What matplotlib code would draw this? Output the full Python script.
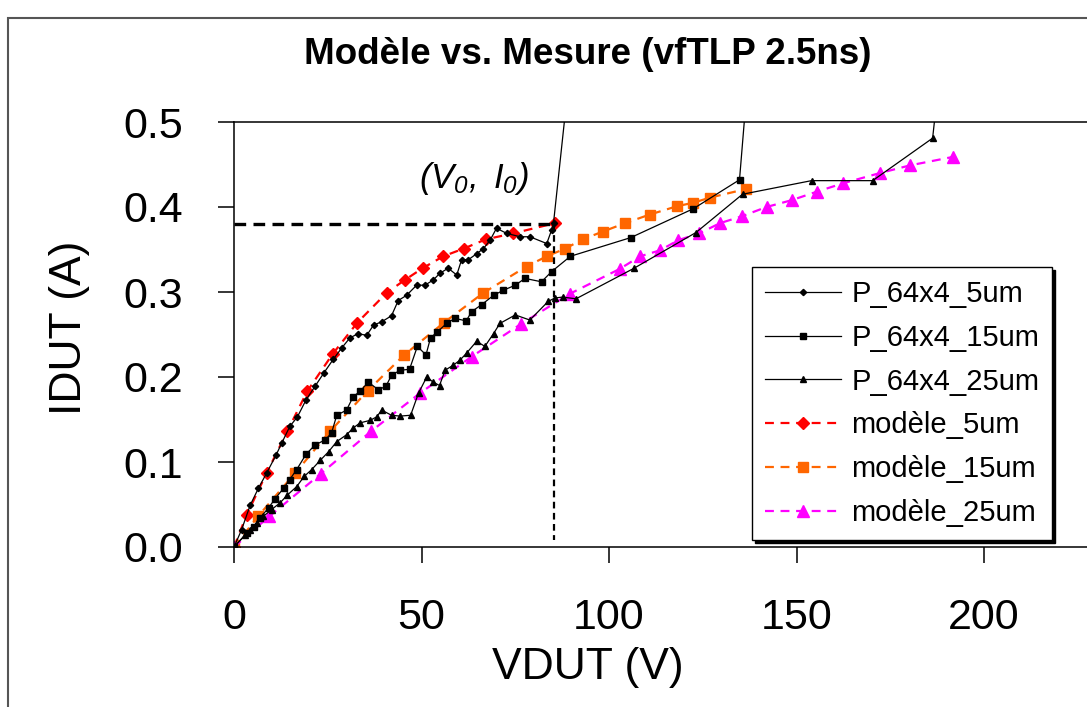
import matplotlib
matplotlib.use("Agg")
import matplotlib.pyplot as plt
from matplotlib.patches import Rectangle

plt.rcParams['font.family'] = ['Liberation Sans', 'DejaVu Sans']
plt.rcParams['mathtext.fontset'] = 'custom'
plt.rcParams['mathtext.it'] = 'Liberation Sans:italic'
plt.rcParams['mathtext.rm'] = 'Liberation Sans:italic'

# ====== data (VDUT in V, IDUT in A)
v_p5 = [0, 2.0, 4.3, 6.5, 8.7, 11.2, 12.7, 14.9, 16.9, 19.2, 21.6, 24.0, 26.5, 28.7, 30.9,
        33.1, 35.4, 37.2, 39.4, 42.0, 43.8, 46.0, 48.7, 50.9, 53.1, 54.9, 57.1, 59.4, 60.7,
        62.5, 64.7, 66.5, 68.3, 70.0, 72.7, 76.3, 78.9, 83.4, 84.7, 85.2, 89.3]
i_p5 = [0, 0.020, 0.049, 0.069, 0.087, 0.108, 0.122, 0.142, 0.153, 0.173, 0.189, 0.205, 0.221,
        0.234, 0.246, 0.251, 0.249, 0.261, 0.265, 0.272, 0.290, 0.296, 0.308, 0.308, 0.314,
        0.322, 0.328, 0.320, 0.338, 0.338, 0.345, 0.351, 0.361, 0.375, 0.369, 0.365, 0.365,
        0.357, 0.373, 0.381, 0.55]

v_p15 = [0, 3.4, 5.2, 6.9, 9.2, 11.0, 13.2, 14.8, 16.7, 19.2, 21.6, 24.3, 26.0, 27.4, 30.0,
         31.8, 33.6, 35.8, 38.5, 40.5, 42.0, 44.3, 46.8, 48.9, 51.2, 52.4, 54.2, 56.7, 58.9,
         61.9, 63.4, 66.0, 69.2, 71.8, 75.0, 77.6, 82.0, 84.7, 89.7, 105.8, 122.5, 134.8, 137.0]
i_p15 = [0, 0.016, 0.024, 0.034, 0.046, 0.057, 0.069, 0.079, 0.091, 0.109, 0.120, 0.126, 0.134,
         0.155, 0.161, 0.177, 0.183, 0.194, 0.185, 0.189, 0.202, 0.208, 0.209, 0.236, 0.226,
         0.246, 0.253, 0.263, 0.269, 0.266, 0.277, 0.285, 0.296, 0.302, 0.308, 0.316, 0.312,
         0.324, 0.342, 0.364, 0.398, 0.432, 0.55]

v_p25 = [0, 2.9, 4.3, 6.0, 7.8, 10.0, 12.3, 14.2, 16.7, 18.7, 20.7, 23.0, 25.2, 27.4, 30.0,
         31.8, 33.6, 36.3, 38.0, 39.4, 42.0, 44.3, 47.1, 49.2, 51.4, 53.1, 54.8, 56.3, 58.5,
         60.3, 62.0, 64.7, 66.9, 69.2, 70.9, 75.0, 78.9, 83.8, 85.6, 87.6, 91.2, 106.7, 123.2,
         135.6, 154.0, 170.3, 186.3, 188.0]
i_p25 = [0, 0.014, 0.020, 0.028, 0.036, 0.044, 0.052, 0.061, 0.071, 0.083, 0.091, 0.102, 0.112,
         0.124, 0.132, 0.140, 0.146, 0.149, 0.153, 0.161, 0.155, 0.154, 0.155, 0.181, 0.200,
         0.194, 0.190, 0.208, 0.214, 0.220, 0.228, 0.242, 0.236, 0.251, 0.263, 0.273, 0.267,
         0.289, 0.293, 0.294, 0.292, 0.328, 0.370, 0.415, 0.431, 0.431, 0.481, 0.55]

v_m5 = [0, 3.4, 8.7, 14.2, 19.5, 26.3, 32.9, 40.7, 45.5, 50.3, 55.8, 61.2, 67.2, 74.5, 85.6]
i_m5 = [0, 0.038, 0.087, 0.136, 0.183, 0.227, 0.264, 0.299, 0.314, 0.328, 0.342, 0.351, 0.362,
        0.369, 0.381]

v_m15 = [0, 6.5, 16.3, 25.6, 35.7, 45.4, 56.0, 66.5, 78.0, 83.4, 88.3, 93.0, 98.3, 104.3,
         110.8, 118.2, 122.5, 126.9, 136.4]
i_m15 = [0, 0.0365, 0.087, 0.136, 0.184, 0.226, 0.264, 0.299, 0.330, 0.342, 0.351, 0.362,
         0.371, 0.381, 0.391, 0.401, 0.405, 0.411, 0.421]

v_m25 = [0, 9.4, 23.1, 36.5, 49.6, 63.4, 76.4, 89.6, 102.8, 108.3, 113.6, 118.5, 124.1, 129.6,
         135.4, 142.0, 148.7, 155.4, 162.5, 172.3, 180.3, 191.8]
i_m25 = [0, 0.036, 0.086, 0.136, 0.181, 0.224, 0.262, 0.298, 0.327, 0.342, 0.349, 0.361, 0.369,
         0.381, 0.389, 0.400, 0.408, 0.418, 0.428, 0.440, 0.449, 0.459]

V0, I0 = 85.3, 0.38
xticks = [0, 50, 100, 150, 200]
yticks = [0.0, 0.1, 0.2, 0.3, 0.4, 0.5]
ytick_labels = ['0.0', '0.1', '0.2', '0.3', '0.4', '0.5']

fig = plt.figure(figsize=(10.87, 7.07), dpi=100)
ax = fig.add_axes([234/1087, 1 - 547/707, 853/1087, 425/707])

dash = (0, (4, 3))
ax.plot(v_m5, i_m5, color='#FF0000', ls=dash, lw=1.6, marker='D', ms=6.5, label='modèle_5um', zorder=2)
ax.plot(v_m15, i_m15, color='#FF6600', ls=dash, lw=1.6, marker='s', ms=7, label='modèle_15um', zorder=2)
ax.plot(v_m25, i_m25, color='#FF00FF', ls=dash, lw=1.6, marker='^', ms=8, label='modèle_25um', zorder=2)

ax.plot(v_p5, i_p5, color='k', lw=0.9, marker='D', ms=3.2, label='P_64x4_5um', zorder=3)
ax.plot(v_p15, i_p15, color='k', lw=0.9, marker='s', ms=4, label='P_64x4_15um', zorder=3)
ax.plot(v_p25, i_p25, color='k', lw=0.9, marker='^', ms=4.5, label='P_64x4_25um', zorder=3)

# (V0, I0) guides
ax.plot([0, V0], [I0, I0], color='k', lw=2.4, ls=(0, (3.5, 2.2)), zorder=4)
ax.plot([V0, V0], [I0, 0.008], color='k', lw=1.6, ls=(0, (3, 2)), zorder=4)
ax.text(78.6, 0.434, r'$(V_0,\ I_0)$', fontsize=25, ha='right', va='center')

ax.set_xlim(0, 853/3.75)
ax.set_ylim(0, 0.5)
ax.set_xticks(xticks)
ax.set_yticks(yticks)
ax.set_yticklabels(ytick_labels)
ax.tick_params(direction='out', length=11.5, width=1.1, labelsize=31, pad=25, colors='k')
for s in ['left', 'bottom', 'top']:
    ax.spines[s].set_linewidth(1.1)
ax.spines['right'].set_visible(False)

h, l = ax.get_legend_handles_labels()
order = [3, 4, 5, 0, 1, 2]
leg = ax.legend([h[k] for k in order], [l[k] for k in order],
                loc='upper left', bbox_to_anchor=(752/1087, 1 - 267/707),
                bbox_transform=fig.transFigure, fontsize=21, frameon=True,
                fancybox=False, shadow={'color': 'k', 'alpha': 1},
                handlelength=2.6, handletextpad=0.35, labelspacing=0.54,
                borderpad=0.45, borderaxespad=0)
leg.get_frame().set_edgecolor('k')
leg.get_frame().set_linewidth(1.0)
leg.get_frame().set_alpha(1)

fig.text(0.541, 1 - 55/707, 'Modèle vs. Mesure (vfTLP 2.5ns)', fontsize=26.5,
         fontweight='bold', ha='center', va='center')
fig.text(588/1087, 1 - 668/707, 'VDUT (V)', fontsize=32, ha='center', va='center')
fig.text(70/1087, 1 - 328/707, 'IDUT (A)', fontsize=32, ha='center', va='center', rotation=90)

fig.patches.append(Rectangle((8/1087, -0.2), 2, 1.2 - 18/707, transform=fig.transFigure,
                             fill=False, edgecolor='#555555', lw=1.5))

fig.savefig('out.png', dpi=100)
